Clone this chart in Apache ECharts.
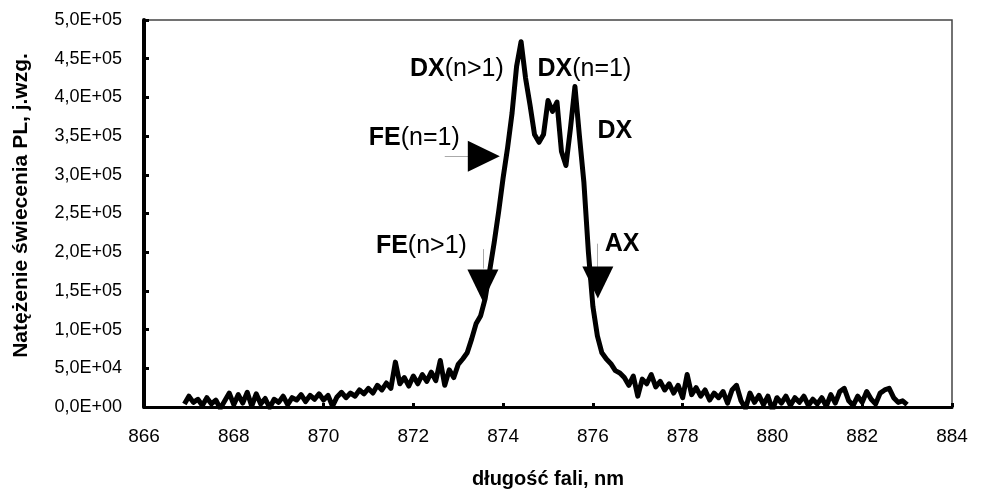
<!DOCTYPE html>
<html>
<head>
<meta charset="utf-8">
<script src="https://cdn.jsdelivr.net/npm/echarts@6/dist/echarts.min.js"></script>
<style>
  html, body { margin: 0; padding: 0; background: #fff; }
  #chart { width: 981px; height: 494px; }
</style>
</head>
<body>
<div id="chart"></div>
<script>
// widmo PL (nm, tys. j.wzg.)
var wavelengthStart = 866.9;
var wavelengthStep = 0.1;
var intensityK = [
  4, 14, 6, 10, 2, 12, 4, 9, -2, 8, 18,           // 866.9 - 867.9
  3, 16, 5, 19, 1, 17, 4, 11, -1, 10,             // 868.0 - 868.9
  6, 14, 3, 12, 9, 16, 7, 15, 10, 17,             // 869.0 - 869.9
  9, 15, 1, 13, 19, 12, 18, 14, 22, 17,           // 870.0 - 870.9
  24, 18, 28, 22, 31, 24, 58, 30, 38, 27,         // 871.0 - 871.9
  40, 30, 42, 33, 45, 34, 60, 28, 48, 38,         // 872.0 - 872.9
  55, 62, 70, 88, 108, 118, 140, 176, 212, 252,   // 873.0 - 873.9
  296, 335, 380, 440, 472, 425, 390, 352, 342, 352, // 874.0 - 874.9
  396, 382, 394, 330, 312, 360, 414, 350, 290, 200, // 875.0 - 875.9
  130, 92, 70, 62, 56, 47, 44, 38, 28, 40,        // 876.0 - 876.9
  14, 36, 30, 42, 26, 33, 22, 30, 18, 28,         // 877.0 - 877.9
  12, 42, 16, 25, 14, 22, 9, 18, 12, 20,          // 878.0 - 878.9
  5, 22, 28, 8, -2, 18, 6, 15, 3, 14,             // 879.0 - 879.9
  -4, 12, 5, 14, 2, 12, 6, 14, 2, 10,             // 880.0 - 880.9
  4, 12, 1, 16, 5, 20, 24, 8, 2, 14,              // 881.0 - 881.9
  6, 20, 10, 4, 18, 22, 24, 12, 6, 8,             // 882.0 - 882.9
  3                                               // 883.0
];

// opisy pasm: tekst pogrubiony, reszta, położenie (nm, j.wzg.)
var labelBold = ['DX', 'DX', 'DX', 'FE', 'FE', 'AX'];
var labelRest = ['(n>1)', '(n=1)', '', '(n=1)', '(n>1)', ''];
var labelX = [872.97, 875.81, 876.49, 872.02, 872.18, 876.65];
var labelY = [436000, 436000, 357000, 348000, 208000, 211000];

// strzalki: polozenie, obrot
var arrowX = [873.57, 873.55, 876.11];
var arrowY = [324000, 157000, 161000];
var arrowRotate = [-90, 180, 180];

// cienkie kreski przy strzalkach
var guideLines = [
  [[872.70, 324000], [873.26, 324000]],
  [[873.55, 204000], [873.55, 179000]],
  [[876.09, 211000], [876.09, 181000]]
];

var xTicks = { min: 866, max: 884, interval: 2 };
var yTicks = { min: 0, max: 500000, interval: 50000 };

function sciLabel(v) {
  if (v === 0) return '0,0E+00';
  var e = Math.floor(Math.log10(v) + 1e-9);
  var m = v / Math.pow(10, e);
  return m.toFixed(1).replace('.', ',') + 'E+' + (e < 10 ? '0' + e : e);
}

var spectrum = intensityK.map(function (v, i) {
  var x = Math.round((wavelengthStart + i * wavelengthStep) * 100) / 100;
  return [x, v * 1000];
});

var marks = [];
for (var i = 0; i < labelBold.length; i++) {
  marks.push({
    coord: [labelX[i], labelY[i]],
    symbol: 'circle',
    symbolSize: 1,
    itemStyle: { color: 'rgba(0,0,0,0)' },
    label: {
      show: true,
      position: 'inside',
      formatter: '{b|' + labelBold[i] + '}' + (labelRest[i] ? '{n|' + labelRest[i] + '}' : ''),
      rich: {
        b: { fontSize: 25, fontWeight: 'bold', color: '#000', fontFamily: 'Liberation Sans' },
        n: { fontSize: 25, fontWeight: 'normal', color: '#000', fontFamily: 'Liberation Sans' }
      }
    }
  });
}
for (var j = 0; j < arrowX.length; j++) {
  marks.push({
    coord: [arrowX[j], arrowY[j]],
    symbol: 'triangle',
    symbolSize: [31, 32],
    symbolRotate: arrowRotate[j],
    itemStyle: { color: '#000' },
    label: { show: false }
  });
}

var chart = echarts.init(document.getElementById('chart'), null, { renderer: 'canvas' });

var option = {
  animation: false,
  backgroundColor: '#fff',
  textStyle: { fontFamily: 'Liberation Sans' },
  grid: {
    left: 144, right: 29, top: 20, bottom: 85,
    show: true, borderColor: '#444', borderWidth: 1.5
  },
  xAxis: {
    type: 'value',
    min: xTicks.min, max: xTicks.max, interval: xTicks.interval,
    name: 'długość fali, nm',
    nameLocation: 'middle',
    nameGap: 62,
    nameTextStyle: { fontSize: 20, fontWeight: 'bold', color: '#000' },
    axisLine: { show: true, onZero: false, lineStyle: { color: '#000', width: 3 } },
    axisTick: { show: true, inside: true, length: 4, lineStyle: { color: '#000', width: 3 } },
    axisLabel: { fontSize: 19, color: '#000', margin: 20 },
    splitLine: { show: false }
  },
  yAxis: {
    type: 'value',
    min: yTicks.min, max: yTicks.max, interval: yTicks.interval,
    name: 'Natężenie świecenia PL, j.wzg.',
    nameLocation: 'middle',
    nameGap: 112,
    nameTextStyle: { fontSize: 21, fontWeight: 'bold', color: '#000', padding: [0, 0, 0, 16] },
    axisLine: { show: true, lineStyle: { color: '#000', width: 4 } },
    axisTick: { show: true, inside: true, length: 5, lineStyle: { color: '#000', width: 3 } },
    axisLabel: { fontSize: 18, color: '#000', margin: 22, formatter: sciLabel },
    splitLine: { show: false }
  },
  series: [{
    type: 'line',
    data: spectrum,
    showSymbol: false,
    smooth: false,
    lineStyle: { color: '#000', width: 5, join: 'round' },
    markPoint: { silent: true, animation: false, data: marks },
    markLine: {
      silent: true,
      animation: false,
      symbol: 'none',
      label: { show: false },
      lineStyle: { color: '#aaa', width: 1, type: 'solid' },
      data: guideLines.map(function (l) {
        return [{ coord: l[0] }, { coord: l[1] }];
      })
    }
  }]
};

chart.setOption(option);
</script>
</body>
</html>
